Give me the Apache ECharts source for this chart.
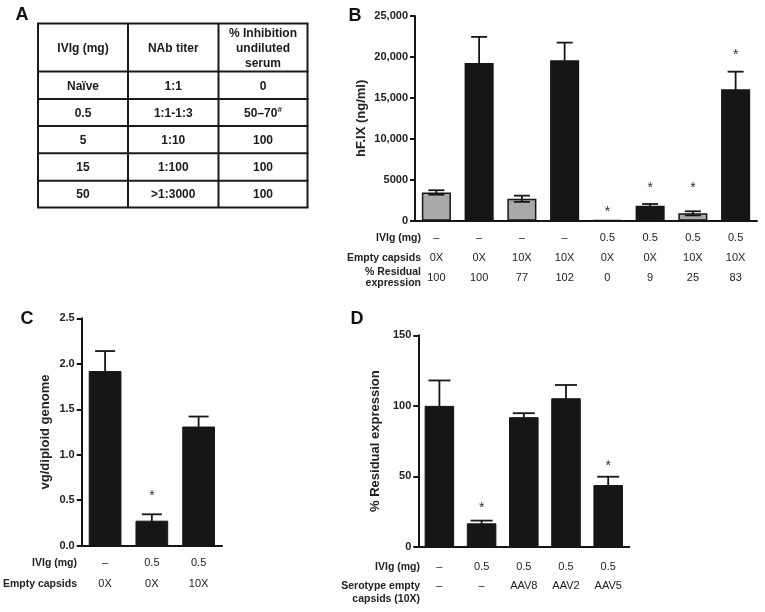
<!DOCTYPE html>
<html><head><meta charset="utf-8">
<script src="https://cdn.jsdelivr.net/npm/echarts/dist/echarts.min.js"></script>
<style>html,body{margin:0;padding:0;background:#fff}#c{width:765px;height:612px}</style>
</head><body><div id="c"></div>
<script>
// ---- Panel A: table ----
const tableHeader = ['IVIg (mg)', 'NAb titer', '% Inhibition\nundiluted\nserum'];
const tableIVIg = ['Naïve', '0.5', '5', '15', '50'];
const tableTiter = ['1:1', '1:1-1:3', '1:10', '1:100', '>1:3000'];
const tableInhibition = ['0', '50–70{sup|#}', '100', '100', '100'];

// ---- Panel B ----
const bIVIg = ['–', '–', '–', '–', '0.5', '0.5', '0.5', '0.5'];
const bCapsids = ['0X', '0X', '10X', '10X', '0X', '0X', '10X', '10X'];
const bResidual = ['100', '100', '77', '102', '0', '9', '25', '83'];
const bValues = [3450, 19250, 2680, 19600, 40, 1820, 900, 16050];
const bErrors = [270, 3200, 380, 2150, 0, 220, 250, 2150];
const bStars = [null, null, null, null, 1400, 4350, 4350, 20600];
const bGray = [true, false, true, false, false, false, true, false];
const bTicks = [0, 5000, 10000, 15000, 20000, 25000];
const bTickLabels = ['0', '5000', '10,000', '15,000', '20,000', '25,000'];

// ---- Panel C ----
const cIVIg = ['–', '0.5', '0.5'];
const cCapsids = ['0X', '0X', '10X'];
const cValues = [1.92, 0.275, 1.31];
const cErrors = [0.22, 0.07, 0.11];
const cStars = [null, 0.576, null];

// ---- Panel D ----
const dIVIg = ['–', '0.5', '0.5', '0.5', '0.5'];
const dSerotype = ['–', '–', 'AAV8', 'AAV2', 'AAV5'];
const dValues = [100, 16.8, 92, 105.4, 43.9];
const dErrors = [18, 1.9, 2.8, 9.4, 5.9];
const dStars = [null, 29.8, null, null, 59.3];

const FONT = 'Liberation Sans, Arial, sans-serif';
const BLACK = '#161616';
const GRAY = '#a9a9a9';

const chart = echarts.init(document.getElementById('c'));

function errRender(half) {
  return function (params, api) {
    const i = api.value(0);
    const hi = api.coord([i, api.value(1)]);
    const lo = api.coord([i, api.value(2)]);
    const st = { stroke: BLACK, lineWidth: 1.8 };
    return { type: 'group', children: [
      { type: 'line', shape: { x1: hi[0], y1: hi[1], x2: lo[0], y2: lo[1] }, style: st },
      { type: 'line', shape: { x1: hi[0] - half, y1: hi[1], x2: hi[0] + half, y2: hi[1] }, style: st },
      { type: 'line', shape: { x1: lo[0] - half, y1: lo[1], x2: lo[0] + half, y2: lo[1] }, style: st }
    ] };
  };
}
function starRender(params, api) {
  const p = api.coord([api.value(0), api.value(1)]);
  return { type: 'text', x: p[0], y: p[1] + 3, style: { text: '*', font: '14px ' + FONT, fill: '#333', align: 'center', verticalAlign: 'middle' } };
}
function errData(vals, errs) {
  return vals.map((v, i) => [i, v + errs[i], Math.max(0, v - errs[i])]).filter((d, i) => errs[i] > 0);
}
function starData(stars) {
  return stars.map((s, i) => [i, s]).filter(d => d[1] != null);
}

const axisLineStyle = { color: BLACK, width: 2 };
function yAxisCfg(gridIndex, min, max, interval, fmt, name, nameGap) {
  return {
    type: 'value', gridIndex, min, max, interval,
    axisLine: { show: true, lineStyle: axisLineStyle },
    axisTick: { show: true, length: 5, lineStyle: axisLineStyle },
    splitLine: { show: false },
    axisLabel: { formatter: fmt, fontFamily: FONT, fontWeight: 'bold', fontSize: 11, color: '#222', margin: 7 },
    name, nameLocation: 'middle', nameGap,
    nameTextStyle: { fontFamily: FONT, fontWeight: 'bold', fontSize: 13, color: '#222' }
  };
}
function xAxisCfg(gridIndex, n, fmt, lineHeight, margin) {
  return {
    type: 'category', gridIndex, data: Array.from({ length: n }, (_, i) => String(i)),
    axisLine: { show: true, lineStyle: axisLineStyle },
    axisTick: { show: false },
    axisLabel: { formatter: fmt, fontFamily: FONT, fontSize: 11, color: '#222', lineHeight, margin, interval: 0 }
  };
}

// Table A graphic
const colEdges = [38, 128, 218.5, 307.5];
const rowEdges = [23.5, 71.5, 99, 126, 153.3, 180.7, 207.5];
const tableRows = [tableHeader].concat(tableIVIg.map((v, i) => [v, tableTiter[i], tableInhibition[i]]));
const tableChildren = [];
colEdges.forEach(x => tableChildren.push({ type: 'line', shape: { x1: x, y1: rowEdges[0], x2: x, y2: rowEdges[rowEdges.length - 1] }, style: { stroke: '#1a1a1a', lineWidth: 2 } }));
rowEdges.forEach(y => tableChildren.push({ type: 'line', shape: { x1: colEdges[0] - 1, y1: y, x2: colEdges[colEdges.length - 1] + 1, y2: y }, style: { stroke: '#1a1a1a', lineWidth: 2 } }));
tableRows.forEach((row, r) => {
  row.forEach((txt, c) => {
    tableChildren.push({ type: 'text', x: (colEdges[c] + colEdges[c + 1]) / 2, y: (rowEdges[r] + rowEdges[r + 1]) / 2 + 1,
      style: { text: txt, font: 'bold 12px ' + FONT, fill: '#1a1a1a', align: 'center', verticalAlign: 'middle', lineHeight: 15,
        rich: { sup: { fontSize: 8, fontWeight: 'bold', fontFamily: FONT, fill: '#1a1a1a', verticalAlign: 'top', padding: [0, 0, 6, 0] } } } });
  });
});

function rowLabel(x, y, txt, lh) {
  return { type: 'text', x, y, style: { text: txt, font: 'bold 10.5px ' + FONT, fill: '#222', align: 'right', verticalAlign: 'middle', lineHeight: lh || 13 } };
}
function panelLetter(x, y, t) {
  return { type: 'text', x, y, style: { text: t, font: 'bold 18px ' + FONT, fill: '#111', align: 'center', verticalAlign: 'middle' } };
}

const option = {
  animation: false,
  backgroundColor: '#fff',
  grid: [
    { left: 415, top: 16, right: 8, bottom: 391.3, outerBoundsMode: 'none' },
    { left: 81.7, top: 318.3, width: 140.3, bottom: 66.3, outerBoundsMode: 'none' },
    { left: 418.3, top: 335.3, width: 211, bottom: 65, outerBoundsMode: 'none' }
  ],
  xAxis: [
    xAxisCfg(0, bValues.length, (v, i) => bIVIg[i] + '\n' + bCapsids[i] + '\n' + bResidual[i], 20, 7),
    xAxisCfg(1, cValues.length, (v, i) => cIVIg[i] + '\n' + cCapsids[i], 21, 7),
    xAxisCfg(2, dValues.length, (v, i) => dIVIg[i] + '\n' + dSerotype[i], 19.5, 10)
  ],
  yAxis: [
    yAxisCfg(0, 0, 25000, 5000, v => bTickLabels[bTicks.indexOf(v)], 'hF.IX (ng/ml)', 47),
    yAxisCfg(1, 0, 2.5, 0.5, v => v.toFixed(1), 'vg/diploid genome', 30),
    yAxisCfg(2, 0, 150, 50, v => String(v), '% Residual expression', 36)
  ],
  series: [
    { type: 'bar', xAxisIndex: 0, yAxisIndex: 0, barCategoryGap: '32%',
      data: bValues.map((v, i) => ({ value: v, itemStyle: { color: bGray[i] ? GRAY : BLACK } })),
      itemStyle: { borderColor: BLACK, borderWidth: 1.5 } },
    { type: 'custom', xAxisIndex: 0, yAxisIndex: 0, renderItem: errRender(8), data: errData(bValues, bErrors), encode: { x: 0, y: [1, 2] }, z: 3 },
    { type: 'custom', xAxisIndex: 0, yAxisIndex: 0, renderItem: starRender, data: starData(bStars), encode: { x: 0, y: 1 }, z: 3 },

    { type: 'bar', xAxisIndex: 1, yAxisIndex: 1, barCategoryGap: '30%', data: cValues,
      itemStyle: { color: BLACK, borderColor: BLACK, borderWidth: 1 } },
    { type: 'custom', xAxisIndex: 1, yAxisIndex: 1, renderItem: errRender(10), data: errData(cValues, cErrors), encode: { x: 0, y: [1, 2] }, z: 3 },
    { type: 'custom', xAxisIndex: 1, yAxisIndex: 1, renderItem: starRender, data: starData(cStars), encode: { x: 0, y: 1 }, z: 3 },

    { type: 'bar', xAxisIndex: 2, yAxisIndex: 2, barCategoryGap: '30%', data: dValues,
      itemStyle: { color: BLACK, borderColor: BLACK, borderWidth: 1 } },
    { type: 'custom', xAxisIndex: 2, yAxisIndex: 2, renderItem: errRender(11), data: errData(dValues, dErrors), encode: { x: 0, y: [1, 2] }, z: 3 },
    { type: 'custom', xAxisIndex: 2, yAxisIndex: 2, renderItem: starRender, data: starData(dStars), encode: { x: 0, y: 1 }, z: 3 }
  ],
  graphic: [
    { type: 'group', children: tableChildren },
    panelLetter(22, 15, 'A'),
    panelLetter(355, 16, 'B'),
    panelLetter(27, 319, 'C'),
    panelLetter(357, 319, 'D'),
    rowLabel(421, 238, 'IVIg (mg)'),
    rowLabel(421, 258, 'Empty capsids'),
    rowLabel(421, 278, '% Residual\nexpression', 11),
    rowLabel(77, 563, 'IVIg (mg)'),
    rowLabel(77, 584, 'Empty capsids'),
    rowLabel(420, 567, 'IVIg (mg)'),
    rowLabel(420, 592.5, 'Serotype empty\ncapsids (10X)', 13)
  ]
};
chart.setOption(option);
</script>
</body></html>
